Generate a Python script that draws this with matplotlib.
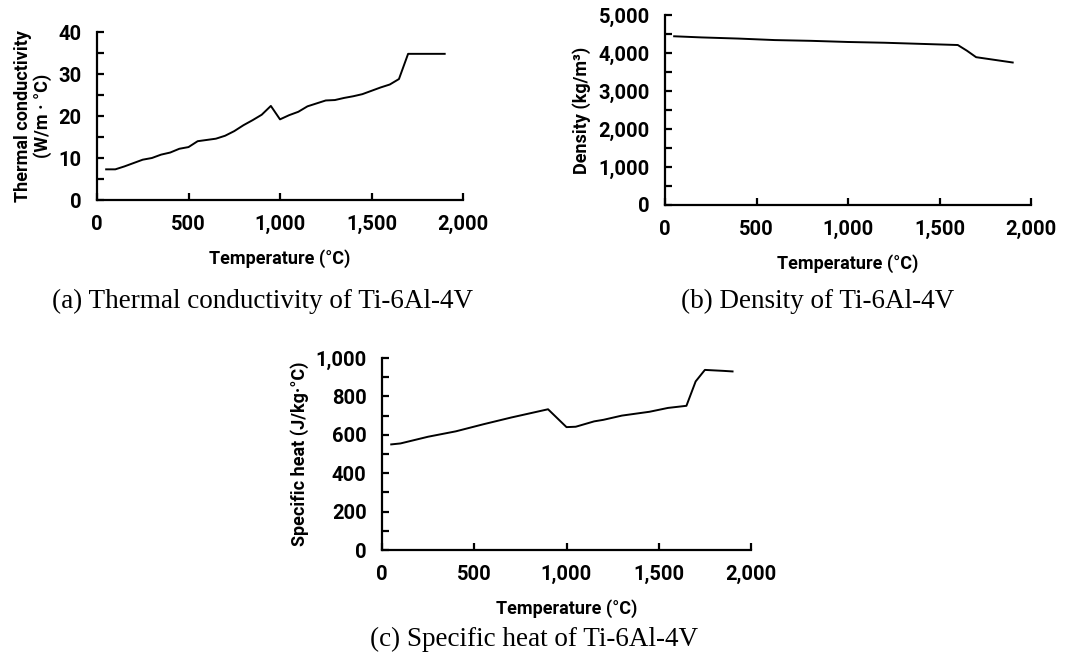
import matplotlib
matplotlib.use("Agg")
import matplotlib.pyplot as plt
from matplotlib.ticker import MultipleLocator, FuncFormatter

# Ti-6Al-4V material properties vs temperature
temp_k = [50, 100, 150, 200, 250, 300, 350, 400, 450, 500, 550, 600, 650, 700,
          750, 800, 850, 900, 950, 1000, 1050, 1100, 1150, 1200, 1250, 1300,
          1350, 1400, 1450, 1500, 1550, 1600, 1650, 1700, 1900]
conductivity = [7.3, 7.3, 8.0, 8.8, 9.6, 10.0, 10.8, 11.3, 12.2, 12.6, 14.0,
                14.3, 14.6, 15.3, 16.4, 17.8, 19.0, 20.3, 22.4, 19.2, 20.2,
                21.0, 22.3, 23.0, 23.7, 23.8, 24.3, 24.7, 25.2, 26.0, 26.8,
                27.5, 28.8, 34.8, 34.8]

temp_rho = [50, 200, 400, 600, 800, 1000, 1200, 1400, 1600, 1650, 1700, 1900]
density = [4440, 4410, 4380, 4340, 4320, 4290, 4270, 4240, 4210, 4060, 3890, 3750]

temp_cp = [50, 100, 250, 400, 550, 700, 900, 1000, 1050, 1150, 1200, 1300,
           1450, 1550, 1650, 1700, 1750, 1850, 1900]
specific_heat = [550, 555, 590, 618, 655, 690, 733, 640, 642, 670, 678, 700,
                 720, 740, 751, 878, 938, 933, 930]

sans = ['Roboto', 'DejaVu Sans']
serif = ['Liberation Serif', 'DejaVu Serif']
thou = FuncFormatter(lambda v, p: f"{int(v):,}")

fig = plt.figure(figsize=(10.8, 6.56), dpi=100)
W, H = 1080, 656


def panel(box, x, y, ymax, ystep, ylabel, caption, cap_xy):
    l, t, r, b = box
    ax = fig.add_axes([l / W, 1 - b / H, (r - l) / W, (b - t) / H])
    ax.plot(x, y, color='black', lw=1.4)
    ax.set_xlim(0, 2000)
    ax.set_ylim(0, ymax)
    for s in ['top', 'right']:
        ax.spines[s].set_visible(False)
    for s in ['left', 'bottom']:
        ax.spines[s].set_linewidth(1.6)
    ax.xaxis.set_major_locator(MultipleLocator(500))
    ax.xaxis.set_major_formatter(thou)
    ax.yaxis.set_major_locator(MultipleLocator(ystep))
    ax.yaxis.set_minor_locator(MultipleLocator(ystep / 2))
    ax.yaxis.set_major_formatter(thou)
    ax.tick_params(axis='both', which='both', direction='in', length=5, width=1.6)
    ax.tick_params(axis='x', pad=11)
    ax.tick_params(axis='y', pad=11)
    for lab in ax.get_xticklabels() + ax.get_yticklabels():
        lab.set_family(sans)
        lab.set_fontweight('bold')
        lab.set_fontsize(14.5)
    ax.set_xlabel('Temperature (°C)', family=sans, fontweight='bold',
                  fontsize=13, labelpad=11)
    ax.set_ylabel(ylabel, family=sans, fontweight='bold', fontsize=13,
                  labelpad=5, linespacing=1.05)
    fig.text(cap_xy[0] / W, 1 - cap_xy[1] / H, caption, family=serif,
             fontsize=19.5, ha='center', va='center')
    return ax


panel((97, 32, 463, 200), temp_k, conductivity, 40, 10,
      'Thermal conductivity\n(W/m · °C)',
      '(a) Thermal conductivity of Ti-6Al-4V', (263, 301))
panel((665, 15, 1031, 205), temp_rho, density, 5000, 1000,
      'Density (kg/m³)', '(b) Density of Ti-6Al-4V', (818, 301))
panel((382, 358, 751, 550), temp_cp, specific_heat, 1000, 200,
      'Specific heat (J/kg·°C)', '(c) Specific heat of Ti-6Al-4V', (534, 639))

fig.savefig('out.png', dpi=100)
